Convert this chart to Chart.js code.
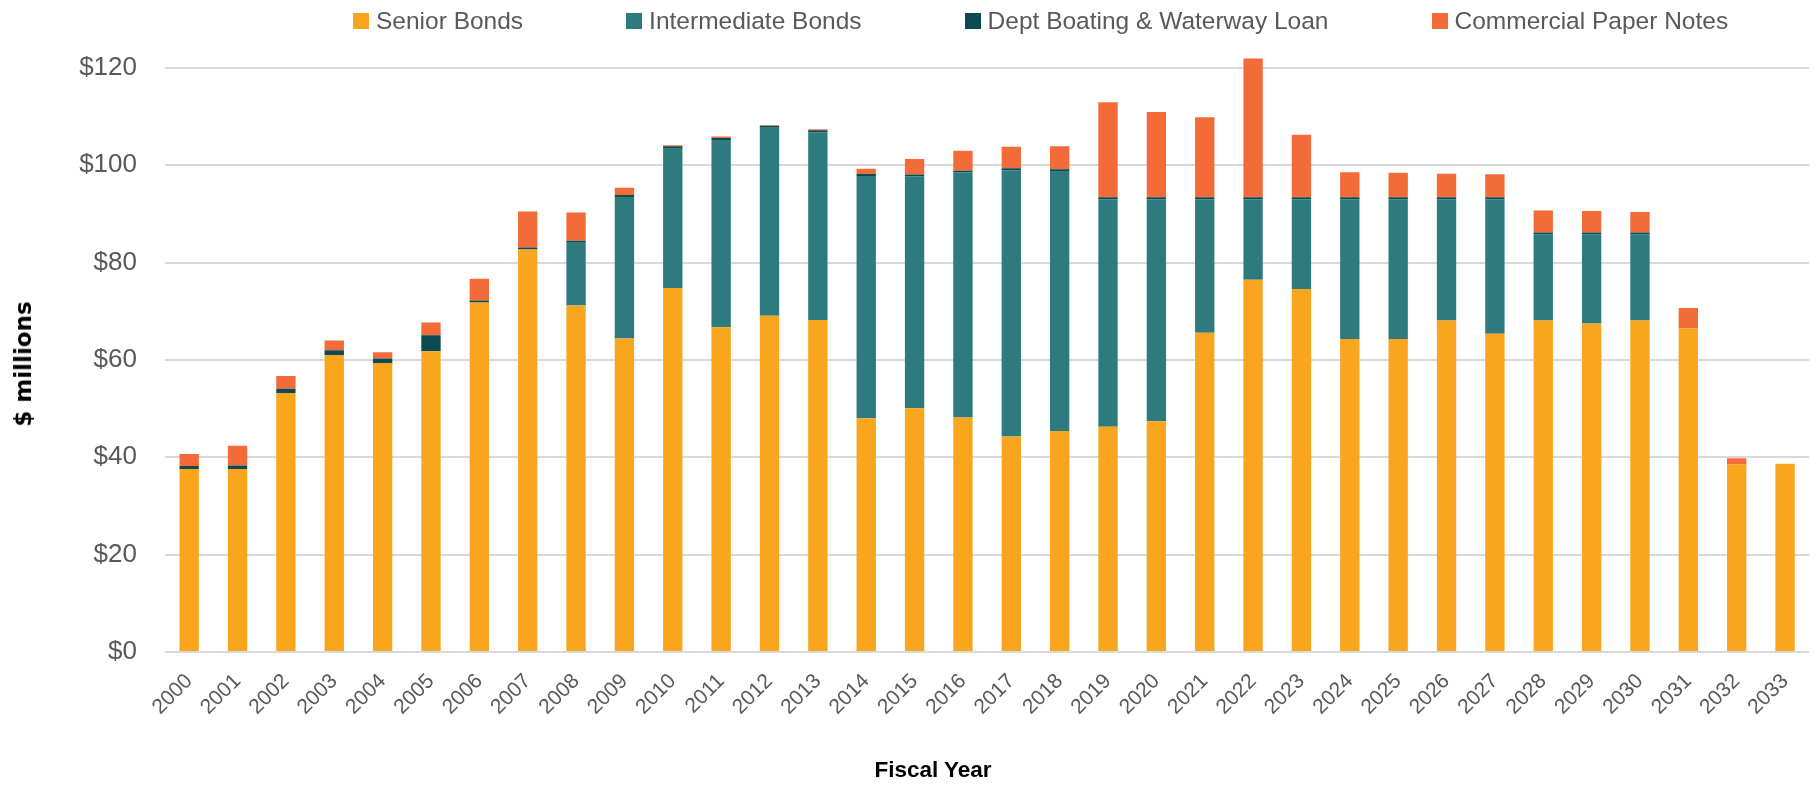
<!DOCTYPE html>
<html>
<head>
<meta charset="utf-8">
<script src="https://cdn.jsdelivr.net/npm/chart.js@4.4.1/dist/chart.umd.min.js"></script>
<style>
  html, body { margin: 0; padding: 0; background: #ffffff; }
  #wrap { position: relative; width: 1820px; height: 785px; overflow: hidden; }
  #c { position: absolute; left: 0; top: 0; }
  #legend { position: absolute; left: 353px; top: 6px; display: flex; gap: 103px; font-family: "Liberation Sans", Arial, sans-serif; font-size: 24.5px; color: #595959; white-space: nowrap; }
  .li { display: flex; align-items: center; height: 30px; }
  .sw { width: 16px; height: 16px; margin-right: 7px; flex: none; }
  #ytitle { position: absolute; left: 23px; top: 364px; transform: translate(-50%, -50%) rotate(-90deg); font-family: "DejaVu Sans", sans-serif; font-weight: bold; font-size: 23px; color: #000; white-space: nowrap; }
  #xtitle { position: absolute; left: 933px; top: 770px; transform: translate(-50%, -50%); font-family: "Liberation Sans", Arial, sans-serif; font-weight: bold; font-size: 22.5px; color: #000; white-space: nowrap; }
</style>
</head>
<body>
<div id="wrap">
  <canvas id="c" width="1820" height="785"></canvas>
  <div id="legend"></div>
  <div id="ytitle">$ millions</div>
  <div id="xtitle">Fiscal Year</div>
</div>
<script>
const years = ["2000","2001","2002","2003","2004","2005","2006","2007","2008","2009","2010","2011","2012","2013","2014","2015","2016","2017","2018","2019","2020","2021","2022","2023","2024","2025","2026","2027","2028","2029","2030","2031","2032","2033"];

const seriesNames = ["Senior Bonds", "Intermediate Bonds", "Dept Boating & Waterway Loan", "Commercial Paper Notes"];

const seniorBonds = [37.6,37.6,53.2,61.0,59.4,61.8,71.8,82.7,71.2,64.4,74.8,66.7,69.1,68.2,48.0,50.1,48.2,44.3,45.4,46.3,47.4,65.6,76.5,74.6,64.3,64.3,68.1,65.4,68.1,67.5,68.1,66.5,38.5,38.7];

const intermediateBonds = [0,0,0,0,0,0,0,0,12.9,29.1,28.6,38.5,38.6,38.6,49.8,47.6,50.3,54.7,53.4,46.7,45.6,27.4,16.5,18.4,28.7,28.7,24.9,27.6,17.7,18.3,17.7,0,0,0];

const deptBoatingLoan = [0.6,0.7,0.9,1.0,0.9,3.3,0.4,0.4,0.4,0.4,0.5,0.4,0.4,0.4,0.4,0.4,0.4,0.4,0.4,0.45,0.45,0.45,0.45,0.45,0.45,0.45,0.45,0.45,0.4,0.4,0.4,0,0,0];

const commercialPaper = [2.5,4.1,2.6,2.0,1.3,2.6,4.5,7.4,5.8,1.5,0.2,0.3,0.1,0.2,1.1,3.2,4.1,4.4,4.7,19.5,17.5,16.4,28.5,12.8,5.1,5.0,4.8,4.7,4.5,4.4,4.2,4.2,1.3,0];

const yTicks = [0, 20, 40, 60, 80, 100, 120];

const colors = ["#F9A51E", "#2E7B7F", "#0A4A52", "#F26B38"];
const values = [seniorBonds, intermediateBonds, deptBoatingLoan, commercialPaper];

// HTML legend built from series names
const legend = document.getElementById('legend');
seriesNames.forEach((name, i) => {
  const li = document.createElement('div'); li.className = 'li';
  const sw = document.createElement('div'); sw.className = 'sw'; sw.style.background = colors[i];
  const tx = document.createElement('span'); tx.textContent = name;
  li.appendChild(sw); li.appendChild(tx); legend.appendChild(li);
});

const datasets = seriesNames.map((name, i) => ({
  label: name,
  data: values[i],
  backgroundColor: colors[i],
  borderWidth: 0,
  categoryPercentage: 1.0,
  barPercentage: 0.4,
  stack: 'debt'
}));

new Chart(document.getElementById('c'), {
  type: 'bar',
  data: { labels: years, datasets },
  options: {
    responsive: false,
    animation: false,
    layout: { padding: { top: 40, right: 9, left: 0, bottom: 0 } },
    plugins: { legend: { display: false }, tooltip: { enabled: false }, title: { display: false } },
    scales: {
      x: {
        stacked: true,
        grid: { display: false, drawTicks: false },
        border: { display: false },
        ticks: {
          autoSkip: false, minRotation: 45, maxRotation: 45, padding: 17,
          color: '#595959',
          font: { family: '"Liberation Sans", Arial, sans-serif', size: 21 }
        },
        afterFit: (s) => { s.height = 133; }
      },
      y: {
        stacked: true,
        min: 0, max: 125,
        grid: { color: '#D9D9D9', lineWidth: 2, drawTicks: false },
        border: { display: false },
        afterBuildTicks: (s) => { s.ticks = yTicks.map(v => ({ value: v })); },
        ticks: {
          includeBounds: false,
          padding: 28,
          color: '#595959',
          font: { family: '"Liberation Sans", Arial, sans-serif', size: 26 },
          callback: (v) => '$' + v
        },
        afterFit: (s) => { s.width = 165; }
      }
    }
  }
});
</script>
</body>
</html>
